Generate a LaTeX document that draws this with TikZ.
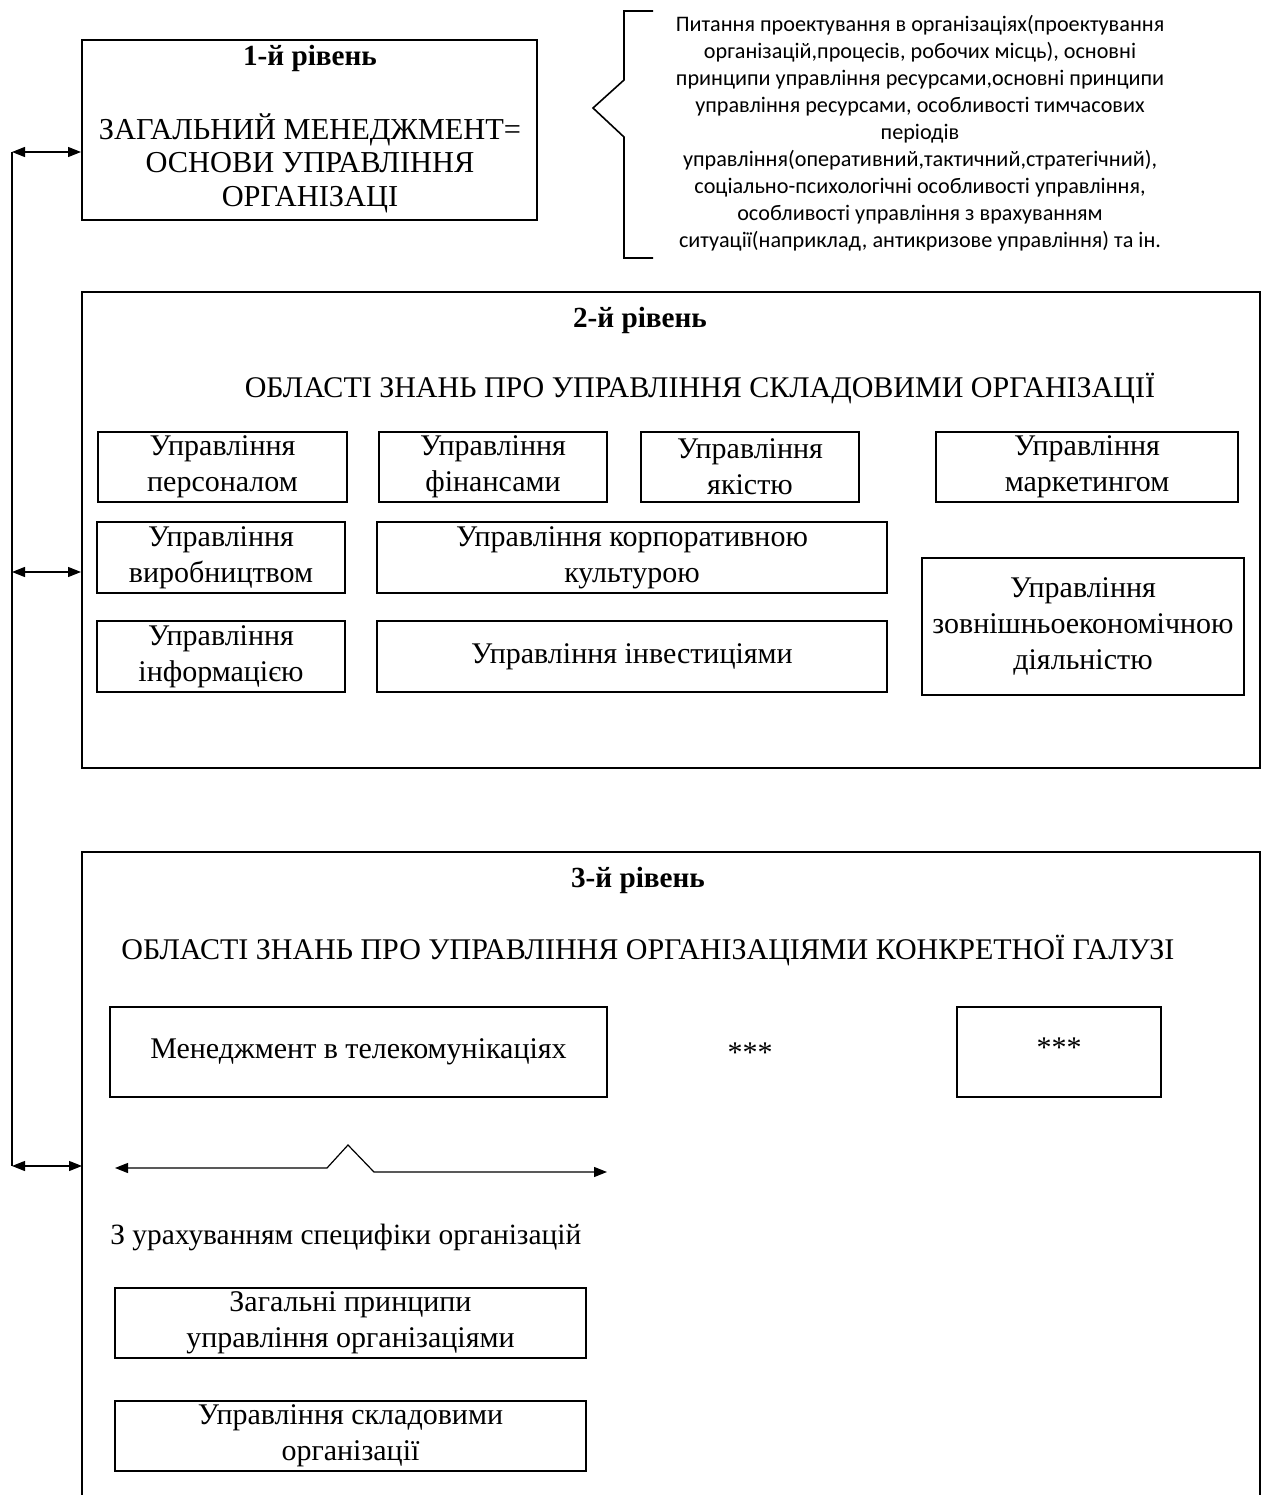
\documentclass[tikz,border=0pt]{standalone}
\usepackage{fontspec}
\setmainfont{Liberation Serif}
\newfontfamily\notefont{Carlito}
\usetikzlibrary{arrows.meta,positioning,fit,calc}
\tikzset{
  level frame/.style={draw=black,line width=1pt,inner sep=0pt},
  area box/.style={draw=black,line width=1pt,inner sep=0pt,align=center,font=\fontsize{15}{18}\selectfont},
  level title/.style={font=\fontsize{14.6}{16}\selectfont\bfseries},
  level head/.style={font=\fontsize{15}{17}\selectfont},
  link arrow/.style={{Triangle[length=6.5pt,width=5pt]}-{Triangle[length=6.5pt,width=5pt]},line width=0.6pt},
  side line/.style={line width=1pt}
}
\begin{document}
\begin{tikzpicture}[x=0.5pt,y=-0.5pt]
  \useasboundingbox (0,0) rectangle (1267,1495);

  % level 1
  \node[level frame,fit={(82,40) (537,220)}] (box1) {};
  \node[level title] (title1) at (310,58) {1-й рівень};
  \node[align=center,font=\fontsize{15.2}{16.75}\selectfont] (body1) at (310,163) {ЗАГАЛЬНИЙ МЕНЕДЖМЕНТ=\\ОСНОВИ УПРАВЛІННЯ\\ОРГАНІЗАЦІ};
  \draw[line width=0.8pt] (653,11) -- (624,11) -- (624,80) -- (593,108) -- (624,137) -- (624,258) -- (653,258);
  \node[align=center,font=\notefont\fontsize{11.1}{13.5}\selectfont] (note1) at (920,133) {Питання проектування в організаціях(проектування\\організацій,процесів, робочих місць), основні\\принципи управління ресурсами,основні принципи\\управління ресурсами, особливості тимчасових\\періодів\\управління(оперативний,тактичний,стратегічний),\\соціально-психологічні особливості управління,\\особливості управління з врахуванням\\ситуації(наприклад, антикризове управління) та ін.};

  % level 2
  \node[level frame,fit={(82,292) (1260,768)}] (box2) {};
  \node[level title] (title2) at (640,320) {2-й рівень};
  \node[level head] (head2) at (700,388) {ОБЛАСТІ ЗНАНЬ ПРО УПРАВЛІННЯ СКЛАДОВИМИ ОРГАНІЗАЦІЇ};
  \node[area box,minimum width=124.5pt,minimum height=35pt] (staff) at (222.5,467) {Управління\\персоналом};
  \node[area box,minimum width=114pt,minimum height=35pt] (finance) at (493,467) {Управління\\фінансами};
  \node[area box,minimum width=109pt,minimum height=35pt] (quality) at (750,467) {Управління\\якістю};
  \node[area box,minimum width=151pt,minimum height=35pt] (market) at (1087,467) {Управління\\маркетингом};
  \node[area box,minimum width=124pt,minimum height=35.5pt] (produce) at (221,557.5) {Управління\\виробництвом};
  \node[area box,minimum width=255pt,minimum height=35.5pt] (culture) at (632,557.5) {Управління корпоративною\\культурою};
  \node[area box,minimum width=124pt,minimum height=35.5pt] (inform) at (221,656.5) {Управління\\інформацією};
  \node[area box,minimum width=255pt,minimum height=35.5pt] (invest) at (632,656.5) {Управління інвестиціями};
  \node[area box,minimum width=161pt,minimum height=68.5pt] (foreign) at (1083,626) {Управління\\зовнішньоекономічною\\діяльністю};

  % level 3
  \draw[side line] (82,1500) |- (1260,852) -- (1260,1500);
  \coordinate (box3w) at (82,1166);
  \node[level title] (title3) at (638,880) {3-й рівень};
  \node[level head] (head3) at (648,950) {ОБЛАСТІ ЗНАНЬ ПРО УПРАВЛІННЯ ОРГАНІЗАЦІЯМИ КОНКРЕТНОЇ ГАЛУЗІ};
  \node[area box,minimum width=248.5pt,minimum height=45pt] (telecom) at (358.5,1052) {Менеджмент в телекомунікаціях};
  \node[font=\fontsize{15}{18}\selectfont] (stars) at (750,1053) {***};
  \node[area box,minimum width=102pt,minimum height=45pt,text depth=4pt] (starbox) at (1059,1052) {***};
  \coordinate (spanL) at (115,1168);
  \coordinate (spanR) at (607,1172);
  \draw[link arrow] (spanL) -- ++(212,0) -- ++(21,-23) -- ++(26,27) -- (spanR);
  \node[anchor=west,inner sep=0pt,font=\fontsize{14.7}{18}\selectfont] (specific) at (110,1237) {З урахуванням специфіки організацій};
  \node[area box,minimum width=235.5pt,minimum height=35pt] (general) at (350.5,1323) {Загальні принципи\\управління організаціями};
  \node[area box,minimum width=235.5pt,minimum height=35pt] (parts) at (350.5,1436) {Управління складовими\\організації};

  % links on the left
  \coordinate (lt) at (12,152);
  \coordinate (lm) at (12,572);
  \coordinate (lb) at (12,1166);
  \draw[side line] (lt) -- (lb);
  \draw[link arrow] (lt) -- (lt -| box1.west);
  \draw[link arrow] (lm) -- (lm -| box2.west);
  \draw[link arrow] (lb) -- (box3w);
\end{tikzpicture}
\end{document}
